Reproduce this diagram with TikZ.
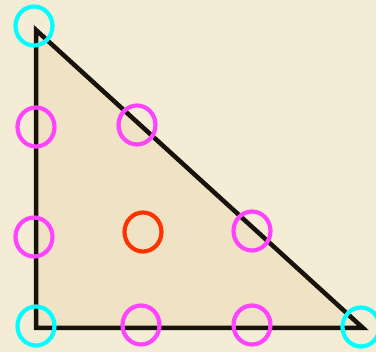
\documentclass[tikz,border=0pt]{standalone}
\usetikzlibrary{shapes.geometric}
\begin{document}
\begin{tikzpicture}[x=1pt,y=-1pt,
  ring/.style={draw,line width=4.2pt,ellipse,minimum width=37pt,minimum height=39pt,inner sep=0pt},
  vtx/.style={ring,draw=vtxcyan},
  edg/.style={ring,draw=edgemag},
  ctr/.style={ring,draw=ctrred},
  edge/.style={draw=linecol,line width=4.5pt,line join=miter}]
\definecolor{bgcol}{HTML}{F4ECD5}
\definecolor{fillcol}{HTML}{F0E3C5}
\definecolor{linecol}{HTML}{17120A}
\definecolor{vtxcyan}{HTML}{00FFFF}
\definecolor{edgemag}{HTML}{FF44FF}
\definecolor{ctrred}{HTML}{FF3300}
\fill[bgcol] (0,0) rectangle (376,352);
\useasboundingbox (0,0) rectangle (376,352);
\coordinate (A) at (36,30);
\coordinate (B) at (36,328);
\coordinate (C) at (363,328);
\fill[fillcol] (A) -- (B) -- (C) -- cycle;
\draw[edge] (A) -- (B) -- (C) -- cycle;
\node[vtx] (v1) at (34,26) {};
\node[vtx] (v2) at (36,326) {};
\node[vtx] (v3) at (361,327) {};
\node[edg] (e1) at (36,127) {};
\node[edg] (e2) at (34,237) {};
\node[edg] (e3) at (137,125) {};
\node[edg] (e4) at (252,231) {};
\node[edg] (e5) at (141,325) {};
\node[edg] (e6) at (252,325) {};
\node[ctr] (c1) at (143,232) {};
\end{tikzpicture}
\end{document}
